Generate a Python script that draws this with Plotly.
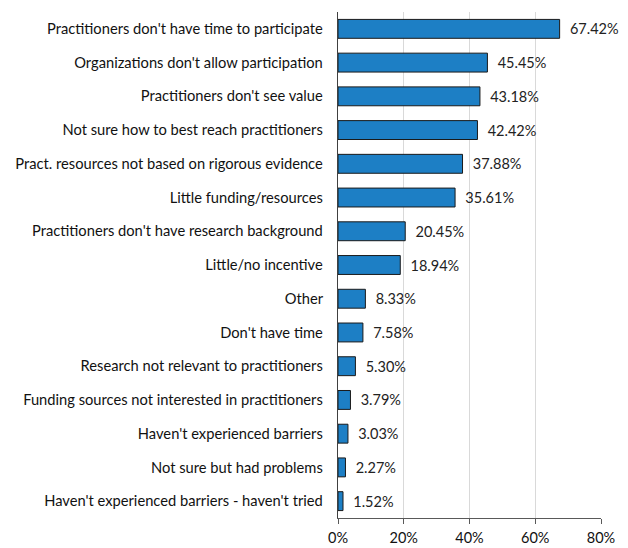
import plotly.graph_objects as go

categories = [
    "Practitioners don't have time to participate",
    "Organizations don't allow participation",
    "Practitioners don't see value",
    "Not sure how to best reach practitioners",
    "Pract. resources not based on rigorous evidence",
    "Little funding/resources",
    "Practitioners don't have research background",
    "Little/no incentive",
    "Other",
    "Don't have time",
    "Research not relevant to practitioners",
    "Funding sources not interested in practitioners",
    "Haven't experienced barriers",
    "Not sure but had problems",
    "Haven't experienced barriers - haven't tried",
]
percentages = [67.42, 45.45, 43.18, 42.42, 37.88, 35.61, 20.45, 18.94,
               8.33, 7.58, 5.30, 3.79, 3.03, 2.27, 1.52]
tick_values = [0, 20, 40, 60, 80]
tick_labels = ["0%", "20%", "40%", "60%", "80%"]

FONT = "Lato, 'Open Sans', sans-serif"

fig = go.Figure(
    go.Bar(
        x=percentages,
        y=categories,
        orientation="h",
        width=0.56,
        marker=dict(color="#1d7fc5", line=dict(color="#1a1a1a", width=1)),
        text=[f"\u2002{v:.2f}%" for v in percentages],
        textposition="outside",
        textfont=dict(family=FONT, size=14.5, color="#222222"),
        cliponaxis=False,
    )
)

fig.update_layout(
    width=628,
    height=548,
    margin=dict(l=338, r=27, t=12, b=30),
    plot_bgcolor="white",
    paper_bgcolor="white",
    showlegend=False,
    font=dict(family=FONT, size=14, color="#111111"),
)
fig.update_xaxes(
    range=[0, 80],
    tickvals=tick_values,
    ticktext=tick_labels,
    showgrid=True,
    gridcolor="#d9d9d9",
    gridwidth=1,
    showline=True,
    linecolor="#595959",
    linewidth=1,
    ticks="outside",
    ticklen=5,
    tickcolor="#595959",
    ticklabelstandoff=2,
    tickfont=dict(family=FONT, size=14.5, color="#111111"),
    zeroline=False,
    automargin=False,
)
fig.update_yaxes(
    autorange="reversed",
    showline=True,
    linecolor="#404040",
    linewidth=1,
    ticks="",
    ticksuffix="   ",
    tickfont=dict(family=FONT, size=14.7, color="#111111"),
    automargin=False,
)

fig.write_html("out.html")
